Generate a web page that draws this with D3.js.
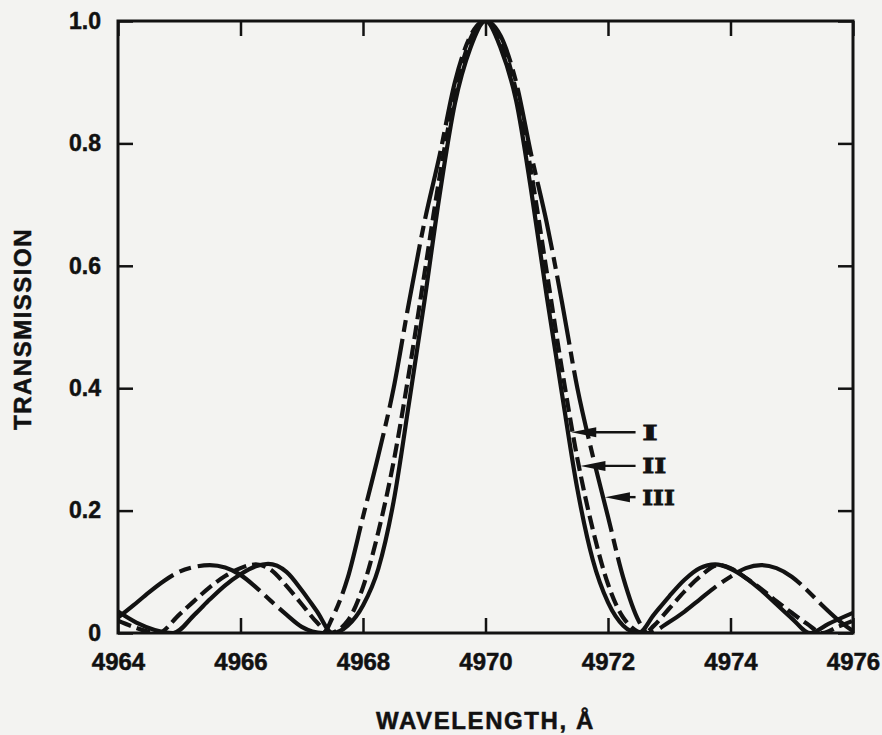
<!DOCTYPE html>
<html>
<head>
<meta charset="utf-8">
<script src="https://cdn.jsdelivr.net/npm/d3@7"></script>
<style>
  body { margin: 0; background: #f3f3f1; }
  svg { display: block; }
  text { font-family: "Liberation Sans", Arial, sans-serif; font-weight: bold; fill: #111; }
</style>
</head>
<body>
<div id="paper"></div>
<script>
// values (wavelength in angstrom, transmission 0..1)

// curve I - solid, narrowest main lobe
var lambdaI = [4964.0, 4964.3, 4964.6, 4964.9, 4965.25, 4965.5, 4965.75, 4966.0, 4966.25, 4966.45, 4966.75, 4967.0, 4967.25, 4967.5,
  4967.75, 4968.0, 4968.25, 4968.5, 4968.75, 4969.0, 4969.25, 4969.5, 4969.75, 4970.0, 4970.25, 4970.5, 4970.75, 4971.0,
  4971.25, 4971.5, 4971.75, 4972.0, 4972.25, 4972.5, 4972.75, 4973.0, 4973.25, 4973.5, 4973.75, 4974.0, 4974.25, 4974.5,
  4974.75, 4975.0, 4975.3, 4975.6, 4976.0]
var transI = [0.035, 0.017, 0.005, 0, 0.03, 0.055, 0.078, 0.096, 0.109, 0.113, 0.1, 0.07, 0.035, 0,
  0.012, 0.045, 0.105, 0.215, 0.375, 0.54, 0.715, 0.865, 0.955, 1.0, 0.955, 0.87, 0.72, 0.55,
  0.39, 0.235, 0.12, 0.05, 0.012, 0, 0.03, 0.06, 0.087, 0.106, 0.112, 0.105, 0.09, 0.07,
  0.047, 0.024, 0, 0.015, 0.033]

// curve II - short dashes
var lambdaII = [4964.0, 4964.25, 4964.5, 4964.65, 4965.0, 4965.25, 4965.5, 4965.75, 4966.0, 4966.25, 4966.5, 4966.75, 4967.0,
  4967.25, 4967.45, 4967.75, 4968.0, 4968.25, 4968.5, 4968.75, 4969.0, 4969.25, 4969.5, 4969.75, 4970.0, 4970.25, 4970.5,
  4970.75, 4971.0, 4971.25, 4971.5, 4971.75, 4972.0, 4972.25, 4972.6, 4972.75, 4973.0, 4973.25, 4973.5, 4973.8, 4974.0,
  4974.25, 4974.5, 4974.75, 4975.0, 4975.25, 4975.5, 4975.75, 4976.0]
var transII = [0.02, 0.01, 0.002, 0, 0.03, 0.053, 0.075, 0.093, 0.106, 0.112, 0.103, 0.077, 0.047,
  0.017, 0, 0.02, 0.075, 0.165, 0.28, 0.425, 0.585, 0.745, 0.88, 0.97, 1.0, 0.97, 0.885,
  0.75, 0.59, 0.43, 0.285, 0.17, 0.08, 0.025, 0, 0.012, 0.04, 0.068, 0.092, 0.111, 0.106,
  0.09, 0.072, 0.052, 0.033, 0.015, 0, 0.01, 0.02]

// curve III - long dash / short dash, widest main lobe
var lambdaIII = [4964.0, 4964.25, 4964.5, 4964.75, 4965.0, 4965.25, 4965.5, 4965.75, 4966.0, 4966.25, 4966.5, 4966.75, 4967.0,
  4967.35, 4967.5, 4967.75, 4968.0, 4968.25, 4968.5, 4968.75, 4969.0, 4969.25, 4969.5, 4969.75, 4970.0, 4970.25, 4970.5,
  4970.75, 4971.0, 4971.25, 4971.5, 4971.75, 4972.0, 4972.25, 4972.5, 4972.65, 4973.0, 4973.25, 4973.5, 4973.75, 4974.0,
  4974.25, 4974.5, 4974.75, 4975.0, 4975.25, 4975.5, 4975.75, 4976.0]
var transIII = [0.025, 0.045, 0.066, 0.085, 0.1, 0.108, 0.111, 0.107, 0.095, 0.075, 0.052, 0.03, 0.01,
  0, 0.025, 0.09, 0.19, 0.29, 0.40, 0.54, 0.67, 0.78, 0.9, 0.975, 1.0, 0.975, 0.9,
  0.78, 0.67, 0.54, 0.40, 0.29, 0.19, 0.09, 0.02, 0, 0.018, 0.035, 0.055, 0.075, 0.092,
  0.106, 0.111, 0.106, 0.092, 0.07, 0.045, 0.022, 0.003]

var xTicks = [4964, 4966, 4968, 4970, 4972, 4974, 4976]
var yTicks = [0, 0.2, 0.4, 0.6, 0.8, 1.0]
var yTickLabels = ['0', '0.2', '0.4', '0.6', '0.8', '1.0']

// arrow callouts on the right flank
var calloutLabels = ['I', 'II', 'III']
var calloutT = [0.328, 0.273, 0.222]
var calloutTip = [4971.40, 4971.55, 4971.95]
var calloutEnd = 4972.45
var calloutTextAt = 4972.56

var W = 882, H = 735
var margin = {top: 21, right: 29, bottom: 102, left: 118}

var svg = d3.select('#paper').append('svg')
  .attr('width', W)
  .attr('height', H)

var x = d3.scaleLinear().domain([4964, 4976]).range([margin.left, W - margin.right])
var y = d3.scaleLinear().domain([0, 1]).range([H - margin.bottom, margin.top])

var ink = '#121212'

svg.append('clipPath').attr('id', 'plotclip')
  .append('rect')
  .attr('x', x(4964)).attr('y', y(1))
  .attr('width', x(4976) - x(4964)).attr('height', y(0) - y(1))

// curves
var line = d3.line()
  .x(function(d) { return x(d[0]) })
  .y(function(d) { return y(d[1]) })
  .curve(d3.curveMonotoneX)

var series = [
  {name: 'III', pts: d3.zip(lambdaIII, transIII), dash: '70,7,12,7'},
  {name: 'II', pts: d3.zip(lambdaII, transII), dash: '14,6'},
  {name: 'I', pts: d3.zip(lambdaI, transI), dash: null}
]

svg.append('g').attr('clip-path', 'url(#plotclip)')
  .selectAll('path')
  .data(series)
  .join('path')
  .attr('d', function(d) { return line(d.pts) })
  .attr('fill', 'none')
  .attr('stroke', ink)
  .attr('stroke-width', 4.2)
  .attr('stroke-linejoin', 'round')
  .attr('stroke-dasharray', function(d) { return d.dash })

// axes: inward ticks all round, labels only bottom/left
function tidy(g) {
  g.select('.domain').remove()
  g.selectAll('.tick line').attr('stroke', ink).attr('stroke-width', 2.5)
  g.selectAll('text').attr('fill', ink).attr('stroke', ink).attr('stroke-width', 0.5)
}

svg.append('g')
  .attr('transform', 'translate(0,' + y(0) + ')')
  .call(d3.axisBottom(x).tickValues(xTicks).tickSize(-15).tickPadding(20).tickFormat(d3.format('d')))
  .call(tidy)
  .selectAll('text').style('font-size', '24px').style('font-family', '"Liberation Sans", Arial, sans-serif')

svg.append('g')
  .attr('transform', 'translate(0,' + y(1) + ')')
  .call(d3.axisTop(x).tickValues(xTicks).tickSize(-15).tickFormat(''))
  .call(tidy)

svg.append('g')
  .attr('transform', 'translate(' + x(4964) + ',0)')
  .call(d3.axisLeft(y).tickValues(yTicks).tickSize(-15).tickPadding(17)
    .tickFormat(function(d, i) { return yTickLabels[i] }))
  .call(tidy)
  .selectAll('text').style('font-size', '23px').style('font-family', '"Liberation Sans", Arial, sans-serif')

svg.append('g')
  .attr('transform', 'translate(' + x(4976) + ',0)')
  .call(d3.axisRight(y).tickValues(yTicks).tickSize(-15).tickFormat(''))
  .call(tidy)

// frame
svg.append('rect')
  .attr('x', x(4964)).attr('y', y(1))
  .attr('width', x(4976) - x(4964)).attr('height', y(0) - y(1))
  .attr('fill', 'none')
  .attr('stroke', ink)
  .attr('stroke-width', 3)

// callout arrows
var callouts = svg.append('g')
  .selectAll('g')
  .data(calloutLabels)
  .join('g')

callouts.append('line')
  .attr('x1', function(d, i) { return x(calloutTip[i]) + 10 })
  .attr('x2', x(calloutEnd))
  .attr('y1', function(d, i) { return y(calloutT[i]) })
  .attr('y2', function(d, i) { return y(calloutT[i]) })
  .attr('stroke', ink)
  .attr('stroke-width', 2.4)

callouts.append('path')
  .attr('d', function(d, i) {
    var tx = x(calloutTip[i]), ty = y(calloutT[i])
    return 'M' + tx + ',' + ty + 'L' + (tx + 25) + ',' + (ty - 5) + 'L' + (tx + 25) + ',' + (ty + 5) + 'Z'
  })
  .attr('fill', ink)

callouts.append('text')
  .attr('x', x(calloutTextAt))
  .attr('y', function(d, i) { return y(calloutT[i]) })
  .attr('dy', '0.36em')
  .attr('textLength', function(d) { return d.length * 8.5 + 7 })
  .attr('lengthAdjust', 'spacingAndGlyphs')
  .attr('stroke', ink)
  .attr('stroke-width', 0.8)
  .style('font-family', '"DejaVu Serif", serif')
  .style('font-size', '21px')
  .text(function(d) { return d })

// axis titles
svg.append('text')
  .attr('x', (x(4964) + x(4976)) / 2)
  .attr('y', 729)
  .attr('text-anchor', 'middle')
  .attr('stroke', ink)
  .attr('stroke-width', 0.5)
  .style('font-size', '24px')
  .style('letter-spacing', '1.6px')
  .text('WAVELENGTH, Å')

svg.append('text')
  .attr('transform', 'translate(31,329) rotate(-90)')
  .attr('text-anchor', 'middle')
  .attr('stroke', ink)
  .attr('stroke-width', 0.5)
  .style('font-size', '24px')
  .style('letter-spacing', '1.5px')
  .text('TRANSMISSION')
</script>
</body>
</html>
